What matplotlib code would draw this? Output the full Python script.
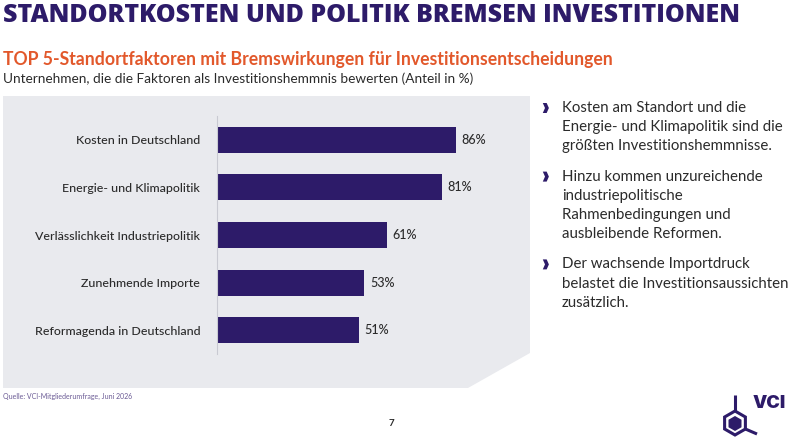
import matplotlib
matplotlib.use("Agg")
import matplotlib.pyplot as plt
from matplotlib.patches import Polygon, RegularPolygon
import numpy as np

categories = ["Kosten in Deutschland", "Energie- und Klimapolitik",
              "Verlässlichkeit Industriepolitik", "Zunehmende Importe",
              "Reformagenda in Deutschland"]
values = [86, 81, 61, 53, 51]

title = "STANDORTKOSTEN UND POLITIK BREMSEN INVESTITIONEN"
subtitle = "TOP 5-Standortfaktoren mit Bremswirkungen für Investitionsentscheidungen"
caption = "Unternehmen, die die Faktoren als Investitionshemmnis bewerten (Anteil in %)"
bullets = [
    ["Kosten am Standort und die", "Energie- und Klimapolitik sind die", "größten Investitionshemmnisse."],
    ["Hinzu kommen unzureichende", "industriepolitische", "Rahmenbedingungen und", "ausbleibende Reformen."],
    ["Der wachsende Importdruck", "belastet die Investitionsaussichten", "zusätzlich."],
]
source = "Quelle: VCI-Mitgliederumfrage, Juni 2026"
page = "7"

PURPLE = "#2d1b69"
ORANGE = "#e2582b"
TEXT = "#2b2b2b"
PANEL = "#e9eaee"
FONT = "Lato"

W, H = 800, 448
fig = plt.figure(figsize=(W / 100, H / 100), dpi=100)
fig.patch.set_facecolor("white")
renderer = fig.canvas.get_renderer()


def fit(t, target_px):
    """Scale font size so the text spans target_px pixels."""
    w = t.get_window_extent(renderer).width
    t.set_fontsize(t.get_fontsize() * target_px / w)
    return t.get_fontsize()


bg = fig.add_axes([0, 0, 1, 1], zorder=0)
bg.set_xlim(0, W)
bg.set_ylim(H, 0)
bg.axis("off")
bg.add_patch(Polygon([(3, 96), (530, 96), (530, 353), (468, 388), (3, 388)],
                     closed=True, facecolor=PANEL, edgecolor="none"))

t = bg.text(3, 16, title, fontsize=20, fontweight=800, fontstretch="condensed",
            color=PURPLE, family="Open Sans", va="center", ha="left")
fit(t, 737)
t = bg.text(3, 60, subtitle, fontsize=13, fontweight="bold", color=ORANGE,
            family=FONT, va="center", ha="left")
fit(t, 609)
t = bg.text(3, 79, caption, fontsize=10, color=TEXT, family=FONT,
            va="center", ha="left")
fit(t, 467)

# bullets: size chosen so the longest line spans the reference width
probe = bg.text(0, 0, bullets[2][1], fontsize=11, family=FONT)
bsize = fit(probe, 226)
probe.remove()

y = 108
chev = np.array([[-0.6, -1], [0.0, 0], [-0.6, 1], [0.45, 1], [1.05, 0], [0.45, -1]])
for para in bullets:
    bg.add_patch(Polygon(chev * [3.7, 5.0] + [545, y], closed=True,
                         facecolor=PURPLE, edgecolor="none"))
    for line in para:
        bg.text(562, y, line, fontsize=bsize, color=TEXT, family=FONT,
                va="center", ha="left")
        y += 19.2
    y += 11

bg.text(3, 396, source, fontsize=5, color="#6b5b95", family=FONT,
        va="center", ha="left")
bg.text(391, 423, page, fontsize=7, fontweight="bold", color=TEXT,
        family=FONT, va="center", ha="center")

# VCI logo
cx, cy = 735, 423
bg.plot([cx, cx], [395, cy - 12], color=PURPLE, lw=2.2, solid_capstyle="butt")
bg.plot([cx + 10.4, 757], [cy + 6, 434], color=PURPLE, lw=2.2, solid_capstyle="butt")
bg.add_patch(RegularPolygon((cx, cy), 6, radius=12, orientation=0,
                            facecolor="none", edgecolor=PURPLE, lw=2.2))
bg.add_patch(RegularPolygon((cx, cy + 0.5), 6, radius=7.5, orientation=0,
                            facecolor=PURPLE, edgecolor="none"))
bg.text(753, 403, "VCI", fontsize=13, fontweight=900, color=PURPLE,
        family="Inter", va="center", ha="left")

# bar chart
ax = fig.add_axes([217 / W, 1 - 354 / H, 278 / W, 238 / H], zorder=1)
ax.patch.set_alpha(0)
pos = np.arange(len(categories))
ax.barh(pos, values, height=0.55, color=PURPLE)
ax.set_xlim(0, 100)
ax.set_ylim(len(categories) - 0.5, -0.5)
ax.set_yticks(pos)
ax.set_yticklabels(categories, fontsize=8.9, color=TEXT, family=FONT,
                   fontweight=500)
ax.tick_params(axis="y", length=0, pad=12)
ax.set_xticks([])
for s in ["top", "right", "bottom"]:
    ax.spines[s].set_visible(False)
ax.spines["left"].set_color("#c9cad2")
ax.spines["left"].set_linewidth(0.8)
for p, v in zip(pos, values):
    ax.text(v + 2, p, f"{v}%", fontsize=9, color=TEXT, family=FONT,
            fontweight=500, va="center", ha="left")

fig.savefig("out.png", dpi=100)
